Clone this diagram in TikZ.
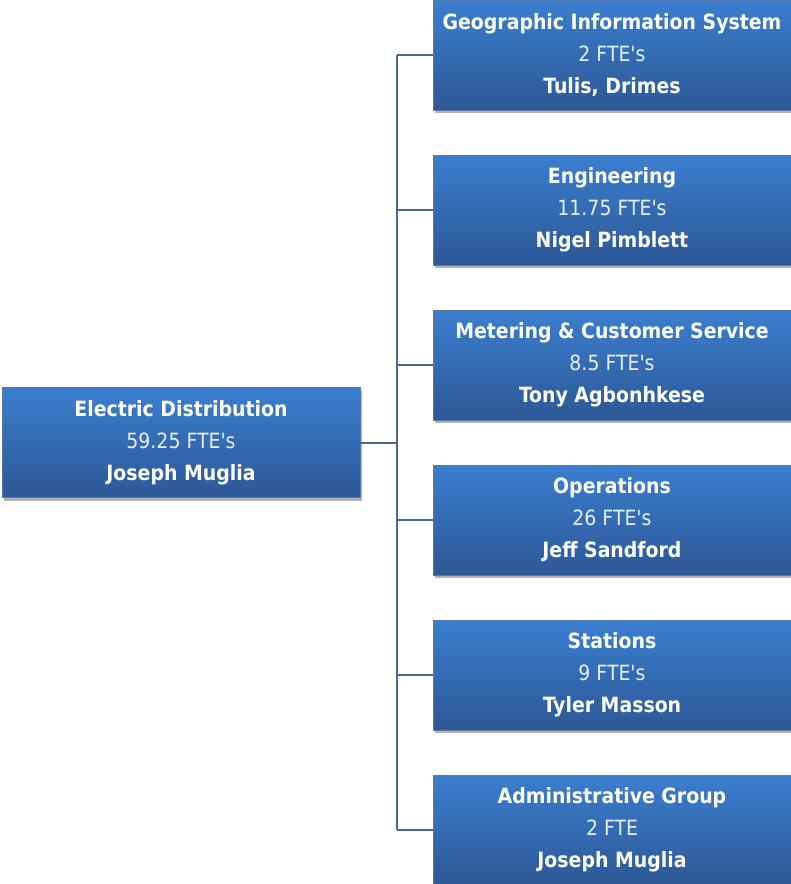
\documentclass[tikz,border=0pt]{standalone}
\usepackage{fontspec}
\setmainfont{DejaVu Sans Condensed}[Ligatures=TeXOff]
\usetikzlibrary{positioning, shadows}
\definecolor{unittop}{RGB}{59,126,207}
\definecolor{unitbottom}{RGB}{45,88,150}
\definecolor{linkblue}{RGB}{72,102,150}
\tikzset{
    unit/.style={rectangle, minimum width=358pt, minimum height=110pt, inner sep=0pt, align=center, top color=unittop, bottom color=unitbottom, draw=unitbottom!80, text=white, font=\fontsize{21}{32}\selectfont, drop shadow={shadow xshift=2pt, shadow yshift=-3pt, opacity=0.3, fill=black}},
    link/.style={draw=linkblue, line width=2pt}
}
\newcommand{\unittext}[3]{\textbf{#1}\\{\color{white!88!unittop}#2}\\\textbf{#3}}

\begin{document}
\begin{tikzpicture}[x=1pt, y=-1pt]
    \useasboundingbox (0,0) rectangle (791,884);
    \node (gis) [unit] at (612,55) {\unittext{Geographic Information System}{2 FTE's}{Tulis, Drimes}};
    \node (eng) [unit, below=44.6pt of gis] {\unittext{Engineering}{11.75 FTE's}{Nigel Pimblett}};
    \node (meter) [unit, below=44.6pt of eng] {\unittext{Metering \& Customer Service}{8.5 FTE's}{Tony Agbonhkese}};
    \node (ops) [unit, below=44.6pt of meter] {\unittext{Operations}{26 FTE's}{Jeff Sandford}};
    \node (stat) [unit, below=44.6pt of ops] {\unittext{Stations}{9 FTE's}{Tyler Masson}};
    \node (admin) [unit, below=44.6pt of stat] {\unittext{Administrative Group}{2 FTE}{Joseph Muglia}};

    \node (ed) [unit] at (181,442.5) {\unittext{Electric Distribution}{59.25 FTE's}{Joseph Muglia}};

    % trunk line between the two columns
    \coordinate (bus) at (397,0);
    \draw [link] (ed.east) -- (ed.east -| bus);
    \draw [link] (gis.west -| bus) -- (admin.west -| bus);
    \foreach \n in {gis,eng,meter,ops,stat,admin}
        \draw [link] (\n.west -| bus) -- (\n.west);
\end{tikzpicture}
\end{document}
